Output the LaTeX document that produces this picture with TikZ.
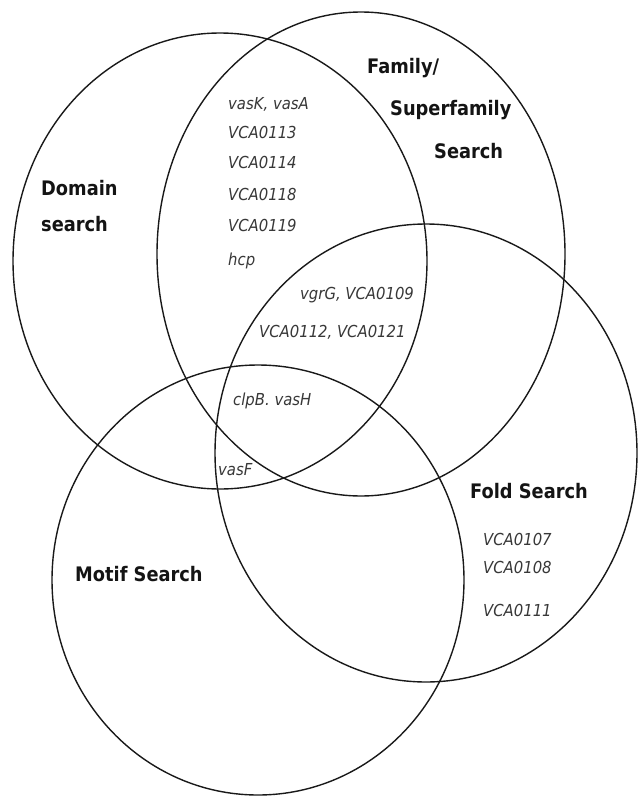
\documentclass[tikz,border=0pt]{standalone}
\usepackage{fontspec}
\setmainfont{DejaVu Sans}
\newfontfamily\lblfont{DejaVu Sans}[FakeStretch=0.89]
\newfontfamily\genefont{DejaVu Sans}[FakeStretch=0.9]
\begin{document}
\begin{tikzpicture}[x=1pt,y=-1pt,
  setline/.style={line width=1.4pt, draw=black!90},
  setlabel/.style={inner sep=0pt, anchor=west, text height=0.729em, text depth=0pt,
    font=\lblfont\bfseries\fontsize{20}{24}\selectfont, text=black!92},
  gene/.style={inner sep=0pt, anchor=west, text height=0.729em, text depth=0pt,
    font=\genefont\itshape\fontsize{16.5}{20}\selectfont, text=black!78}]
\useasboundingbox (0,0) rectangle (639,797);
\fill[white] (0,0) rectangle (639,797);
% sets
\draw[setline] (220,261) ellipse [x radius=207pt, y radius=228pt];
\draw[setline] (361,254) ellipse [x radius=204pt, y radius=242pt];
\draw[setline] (426,453) ellipse [x radius=211pt, y radius=229pt];
\draw[setline] (258,580) ellipse [x radius=206pt, y radius=215pt];
% set labels
\node[setlabel] (dom1) at (41,192) {Domain};
\node[setlabel] (dom2) at (41,228) {search};
\node[setlabel] (fam1) at (367,70) {Family/};
\node[setlabel] (fam2) at (390,112) {Superfamily};
\node[setlabel] (fam3) at (434,155) {Search};
\node[setlabel] (fold) at (470,495) {Fold Search};
\node[setlabel] (motif) at (75,578) {Motif Search};
% genes
\node[gene] (g1) at (228,106) {vasK, vasA};
\node[gene] (g2) at (228,135) {VCA0113};
\node[gene] (g3) at (228,165) {VCA0114};
\node[gene] (g4) at (228,197) {VCA0118};
\node[gene] (g5) at (228,228) {VCA0119};
\node[gene] (g6) at (228,262) {hcp};
\node[gene] (g7) at (300,296) {vgrG, VCA0109};
\node[gene] (g8) at (259,334) {VCA0112, VCA0121};
\node[gene] (g9) at (233,402) {clpB. vasH};
\node[gene] (g10) at (218,472) {vasF};
\node[gene] (g11) at (483,542) {VCA0107};
\node[gene] (g12) at (483,570) {VCA0108};
\node[gene] (g13) at (483,613) {VCA0111};
\end{tikzpicture}
\end{document}
